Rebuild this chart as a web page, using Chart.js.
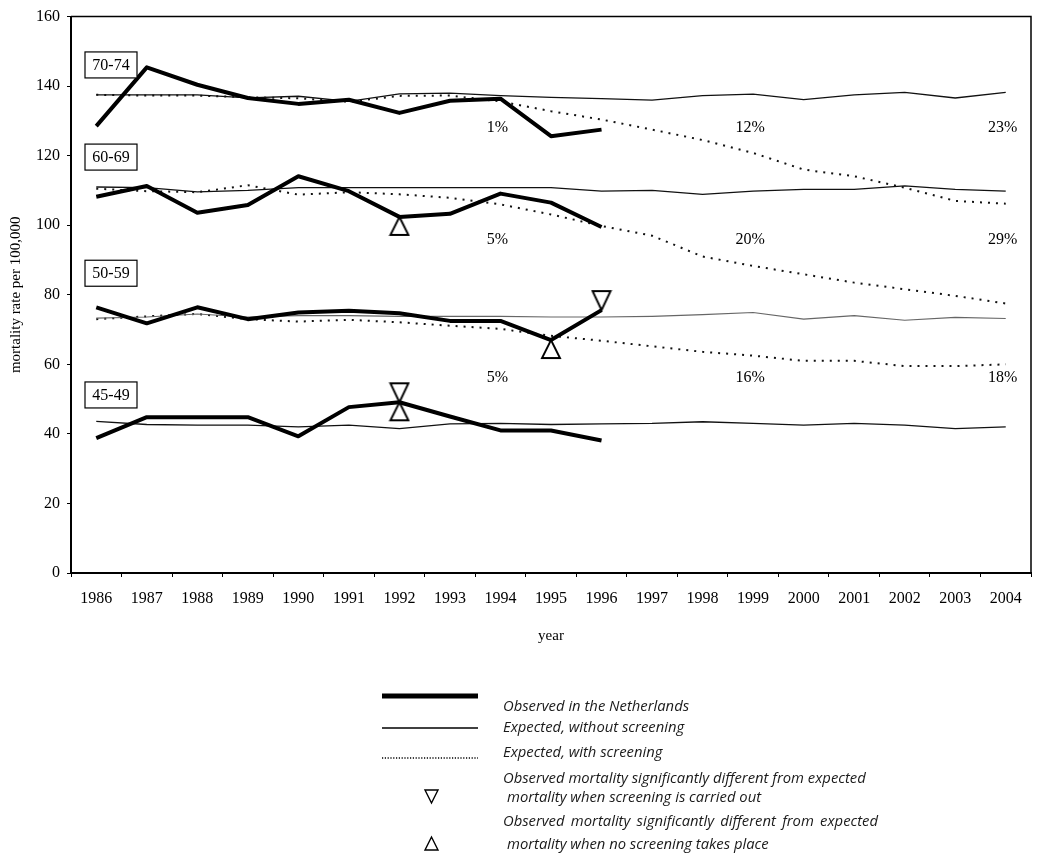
<!DOCTYPE html>
<html>
<head>
<meta charset="utf-8">
<script src="https://cdn.jsdelivr.net/npm/chart.js@4.4.1/dist/chart.umd.min.js"></script>
<style>
  html, body { margin: 0; padding: 0; background: #fff; }
  canvas { display: block; }
</style>
</head>
<body>
<canvas id="c" width="1042" height="860"></canvas>
<script>
// Years on the horizontal axis
const years = ['1986','1987','1988','1989','1990','1991','1992','1993','1994','1995',
               '1996','1997','1998','1999','2000','2001','2002','2003','2004'];

// Observed mortality in the Netherlands (1986-1996)
const obs7074 = [128.5, 145.4, 140.4, 136.6, 134.9, 136.1, 132.3, 135.8, 136.4, 125.6, 127.5];
const obs6069 = [108.2, 111.3, 103.6, 105.8, 114.1, 109.8, 102.4, 103.3, 109.1, 106.5, 99.5];
const obs5059 = [76.4, 71.8, 76.4, 73.0, 74.9, 75.4, 74.7, 72.5, 72.5, 67.0, 75.6];
const obs4549 = [38.8, 44.8, 44.8, 44.8, 39.3, 47.7, 49.1, 45.0, 41.0, 41.0, 38.1];

// Expected mortality without screening (1986-2004)
const noScr7074 = [137.5, 137.5, 137.5, 136.6, 137.1, 135.6, 137.8, 138.0, 137.3, 136.8, 136.4, 136.0, 137.3, 137.7, 136.1, 137.5, 138.2, 136.6, 138.2];
const noScr6069 = [111.0, 110.8, 109.6, 110.0, 110.8, 110.8, 110.8, 110.8, 110.8, 110.8, 109.8, 110.0, 108.9, 109.8, 110.3, 110.3, 111.3, 110.3, 109.8];
const noScr5059 = [73.3, 73.6, 74.5, 73.6, 74.0, 74.0, 73.8, 73.8, 73.8, 73.6, 73.6, 73.8, 74.3, 74.9, 73.0, 74.0, 72.7, 73.5, 73.2];
const noScr4549 = [43.6, 42.7, 42.5, 42.5, 42.0, 42.5, 41.5, 42.9, 43.0, 42.7, 42.9, 43.0, 43.5, 43.0, 42.5, 43.0, 42.5, 41.5, 42.0];

// Expected mortality with screening (1986-2004)
const scr7074 = [137.5, 137.3, 137.3, 136.8, 136.5, 135.5, 137.2, 137.3, 135.6, 132.8, 130.4, 127.5, 124.5, 120.8, 116.0, 114.1, 110.8, 107.0, 106.2];
const scr6069 = [110.5, 109.8, 109.5, 111.5, 108.8, 109.5, 108.9, 107.9, 106.0, 103.1, 99.8, 97.0, 91.0, 88.3, 85.9, 83.5, 81.6, 79.7, 77.5];
const scr5059 = [73.0, 73.8, 74.5, 73.0, 72.3, 72.8, 72.1, 71.1, 70.2, 68.2, 66.8, 65.2, 63.6, 62.5, 61.0, 61.0, 59.5, 59.5, 60.0];

// Age groups and the observed series belonging to each
const ageGroups = ['70-74', '60-69', '50-59', '45-49'];
const observedByGroup = { '70-74': obs7074, '60-69': obs6069, '50-59': obs5059, '45-49': obs4549 };

// Years where observed mortality differs significantly from the expectation
const sigVsScreening   = [{ group: '50-59', year: '1996' }, { group: '45-49', year: '1992' }];
const sigVsNoScreening = [{ group: '60-69', year: '1992' }, { group: '50-59', year: '1995' }, { group: '45-49', year: '1992' }];

// Predicted mortality reduction by year
const reductionYears = ['1994', '1999', '2004'];
const reduction7074 = ['1%', '12%', '23%'];
const reduction6069 = ['5%', '20%', '29%'];
const reduction5059 = ['5%', '16%', '18%'];

// Y axis ticks
const yMin = 0, yMax = 160, yStep = 20;

// ---- drawing helpers ----
const SERIF = '"Liberation Serif", "Times New Roman", serif';

function triangleMarker(pointingDown) {
  const c = document.createElement('canvas');
  c.width = 22; c.height = 42;
  const g = c.getContext('2d');
  g.lineWidth = 1.9;
  g.lineJoin = 'miter';
  g.strokeStyle = '#000';
  g.fillStyle = '#fff';
  g.beginPath();
  if (pointingDown) {
    g.moveTo(2, 2); g.lineTo(20, 2); g.lineTo(11, 21);
  } else {
    g.moveTo(11, 21); g.lineTo(20, 39); g.lineTo(2, 39);
  }
  g.closePath();
  g.fill(); g.stroke();
  return c;
}

function markerData(list) {
  return list.map(m => ({ x: m.year, y: observedByGroup[m.group][years.indexOf(m.year)] }));
}

const observedStyle = { borderColor: '#000', borderWidth: 4, pointRadius: 0, tension: 0, order: 2, borderJoinStyle: 'round' };
const noScrStyle = { borderColor: '#111', borderWidth: 1.3, pointRadius: 0, tension: 0, order: 3 };
const scrStyle = { borderColor: '#111', borderWidth: 2, borderDash: [2, 6], pointRadius: 0, tension: 0, order: 4 };

const datasets = [
  { label: 'Observed 70-74', data: obs7074, ...observedStyle },
  { label: 'Observed 60-69', data: obs6069, ...observedStyle },
  { label: 'Observed 50-59', data: obs5059, ...observedStyle },
  { label: 'Observed 45-49', data: obs4549, ...observedStyle },
  { label: 'Without screening 70-74', data: noScr7074, ...noScrStyle },
  { label: 'Without screening 60-69', data: noScr6069, ...noScrStyle },
  { label: 'Without screening 50-59', data: noScr5059, ...noScrStyle, borderColor: '#666', borderWidth: 1.1 },
  { label: 'Without screening 45-49', data: noScr4549, ...noScrStyle },
  { label: 'With screening 70-74', data: scr7074, ...scrStyle },
  { label: 'With screening 60-69', data: scr6069, ...scrStyle },
  { label: 'With screening 50-59', data: scr5059, ...scrStyle },
  { label: 'Different when screening', data: markerData(sigVsScreening), showLine: false,
    pointStyle: triangleMarker(true), pointRadius: 10, order: 0 },
  { label: 'Different without screening', data: markerData(sigVsNoScreening), showLine: false,
    pointStyle: triangleMarker(false), pointRadius: 10, order: 1 }
];

// Frame, age-group boxes and reduction percentages
const annotations = {
  id: 'annotations',
  afterDatasetsDraw(chart) {
    const { ctx, chartArea: a, scales: { x, y } } = chart;
    ctx.save();
    // top and right frame
    ctx.strokeStyle = '#000';
    ctx.lineWidth = 1.5;
    ctx.beginPath();
    ctx.moveTo(a.left, a.top); ctx.lineTo(a.right, a.top); ctx.lineTo(a.right, a.bottom);
    ctx.stroke();

    // age group boxes
    const boxY = { '70-74': 146.1, '60-69': 119.6, '50-59': 86.2, '45-49': 51.2 };
    ctx.font = '16px ' + SERIF;
    ctx.textAlign = 'center';
    ctx.textBaseline = 'middle';
    ageGroups.forEach(g => {
      const cy = y.getPixelForValue(boxY[g]);
      const bx = a.left + 14, bw = 52, bh = 26;
      ctx.fillStyle = '#fff';
      ctx.fillRect(bx, cy - bh / 2, bw, bh);
      ctx.lineWidth = 1.2;
      ctx.strokeRect(bx, cy - bh / 2, bw, bh);
      ctx.fillStyle = '#000';
      ctx.fillText(g, bx + bw / 2, cy + 1);
    });

    // reduction percentages
    const rows = [[reduction7074, 128], [reduction6069, 95.8], [reduction5059, 56]];
    rows.forEach(([labels, v]) => {
      labels.forEach((t, i) => {
        ctx.fillText(t, x.getPixelForValue(years.indexOf(reductionYears[i])) - 3, y.getPixelForValue(v));
      });
    });
    ctx.restore();
  },
  afterDraw(chart) {
    const ctx = chart.ctx;
    ctx.save();
    // legend
    const x0 = 382, x1 = 478;
    ctx.strokeStyle = '#000';
    ctx.lineWidth = 5;
    ctx.beginPath(); ctx.moveTo(x0, 696); ctx.lineTo(x1, 696); ctx.stroke();
    ctx.lineWidth = 1.6;
    ctx.beginPath(); ctx.moveTo(x0, 728); ctx.lineTo(x1, 728); ctx.stroke();
    ctx.setLineDash([1.2, 1.6]);
    ctx.beginPath(); ctx.moveTo(x0, 758); ctx.lineTo(x1, 758); ctx.stroke();
    ctx.setLineDash([]);

    // legend triangles
    ctx.lineWidth = 1.4;
    ctx.beginPath(); ctx.moveTo(425, 790); ctx.lineTo(438, 790); ctx.lineTo(431.5, 803); ctx.closePath(); ctx.stroke();
    ctx.beginPath(); ctx.moveTo(431.5, 837); ctx.lineTo(438, 850); ctx.lineTo(425, 850); ctx.closePath(); ctx.stroke();

    ctx.fillStyle = '#1a1a1a';
    ctx.font = 'italic 14.8px "Open Sans", sans-serif';
    ctx.textAlign = 'left';
    ctx.textBaseline = 'middle';
    ctx.fillText('Observed in the Netherlands', 503, 707);
    ctx.fillText('Expected, without screening', 503, 728);
    ctx.fillText('Expected, with screening', 503, 753);
    ctx.fillText('Observed mortality significantly different from expected', 503, 779);
    ctx.fillText('mortality when screening is carried out', 507, 798);
    // justified line
    const words = 'Observed mortality significantly different from expected'.split(' ');
    const widths = words.map(w => ctx.measureText(w).width);
    const total = widths.reduce((s, w) => s + w, 0);
    const gap = (878 - 503 - total) / (words.length - 1);
    let cx = 503;
    words.forEach((w, i) => { ctx.fillText(w, cx, 822); cx += widths[i] + gap; });
    ctx.fillText('mortality when no screening takes place', 507, 845);
    ctx.restore();
  }
};

new Chart(document.getElementById('c'), {
  type: 'line',
  data: { labels: years, datasets },
  plugins: [annotations],
  options: {
    responsive: false,
    animation: false,
    devicePixelRatio: 1,
    layout: { padding: { left: 3, top: 15, right: 7, bottom: 210.6 } },
    plugins: { legend: { display: false }, tooltip: { enabled: false } },
    scales: {
      x: {
        type: 'category',
        offset: true,
        afterFit(scale) { scale.height = 76.4; },
        grid: { display: true, offset: true, drawOnChartArea: false, drawTicks: true, tickLength: 4, color: '#000', lineWidth: 1 },
        border: { display: true, color: '#000', width: 2 },
        ticks: { color: '#000', font: { family: SERIF, size: 16 }, padding: 12, maxRotation: 0, autoSkip: false },
        title: { display: true, text: 'year', color: '#000', font: { family: SERIF, size: 15 } }
      },
      y: {
        min: yMin, max: yMax,
        afterFit(scale) { scale.width = 68; },
        grid: { display: true, drawOnChartArea: false, drawTicks: true, tickLength: 4, color: '#000', lineWidth: 1 },
        border: { display: true, color: '#000', width: 2 },
        ticks: { stepSize: yStep, color: '#000', font: { family: SERIF, size: 16 }, padding: 7 },
        title: { display: true, text: 'mortality rate per 100,000', color: '#000', font: { family: SERIF, size: 15 } }
      }
    }
  }
});
</script>
</body>
</html>
